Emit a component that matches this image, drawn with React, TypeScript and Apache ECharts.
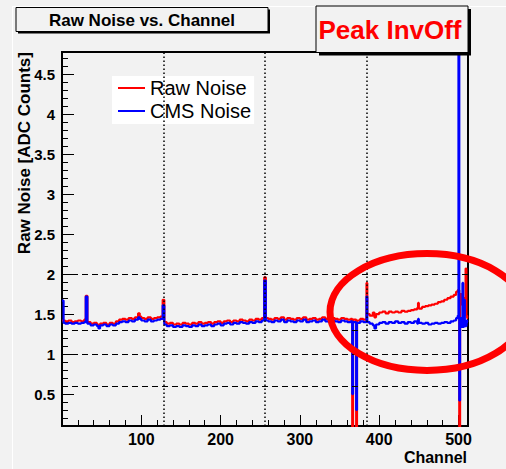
import React, { useEffect, useRef } from "react";
import * as echarts from "echarts";

// Histogram bins: [channel (left bin edge), value]
const rawNoise: [number, number][] = [
  [0, 1.42], [4, 1.41], [8, 1.42], [12, 1.4], [16, 1.41], [20, 1.42], [24, 1.41], [28, 1.43],
  [30, 1.73], [32, 1.4], [36, 1.38], [40, 1.39], [44, 1.37], [46, 1.35], [48, 1.38], [52, 1.39],
  [56, 1.37], [60, 1.39], [64, 1.38], [68, 1.41], [72, 1.43], [76, 1.44], [80, 1.43], [84, 1.45],
  [88, 1.44], [92, 1.46], [96, 1.51], [98, 1.47], [100, 1.45], [104, 1.44], [108, 1.46], [112, 1.44],
  [116, 1.45], [120, 1.46], [124, 1.47], [127, 1.68], [129, 1.4], [132, 1.38], [136, 1.39], [140, 1.37],
  [144, 1.38], [148, 1.37], [152, 1.39], [156, 1.38], [160, 1.37], [164, 1.39], [168, 1.38], [172, 1.4],
  [176, 1.38], [180, 1.39], [184, 1.4], [188, 1.38], [192, 1.4], [196, 1.41], [200, 1.39], [204, 1.41],
  [208, 1.42], [212, 1.4], [216, 1.42], [220, 1.41], [224, 1.43], [228, 1.42], [232, 1.41], [236, 1.43],
  [240, 1.42], [244, 1.44], [248, 1.43], [252, 1.45], [255, 1.96], [257, 1.45], [260, 1.44], [264, 1.43],
  [268, 1.45], [272, 1.44], [276, 1.46], [280, 1.43], [284, 1.45], [288, 1.44], [292, 1.43], [296, 1.45],
  [300, 1.44], [304, 1.46], [308, 1.43], [312, 1.44], [316, 1.45], [320, 1.43], [324, 1.44], [328, 1.46],
  [332, 1.44], [336, 1.43], [340, 1.45], [344, 1.44], [348, 1.43], [352, 1.45], [356, 1.44], [360, 1.43],
  [364, 1.44], [366, 0], [367, 1.43], [371, 0], [372, 1.42], [376, 1.44], [380, 1.43], [384, 1.89],
  [385, 1.5], [388, 1.48], [392, 1.52], [394, 1.46], [396, 1.5], [400, 1.52], [404, 1.53], [408, 1.51],
  [412, 1.53], [416, 1.52], [420, 1.53], [424, 1.52], [428, 1.54], [432, 1.53], [436, 1.54], [440, 1.55],
  [444, 1.56], [448, 1.58], [449, 1.64], [450, 1.57], [454, 1.59], [458, 1.6], [462, 1.61], [466, 1.62],
  [470, 1.63], [474, 1.65], [478, 1.66], [482, 1.68], [486, 1.7], [490, 1.72], [494, 1.74], [497, 1.78],
  [499, 1.8], [501, 0], [502, 1.75], [504, 1.62], [506, 1.7], [508, 1.52], [509, 2.07], [510, 1.48],
  [511, 1.45], [512, 1.45],
];

const cmsNoise: [number, number][] = [
  [0, 1.67], [2, 1.39], [4, 1.38], [8, 1.39], [12, 1.38], [16, 1.39], [20, 1.38], [24, 1.39],
  [28, 1.4], [30, 1.72], [32, 1.38], [36, 1.36], [40, 1.37], [44, 1.35], [46, 1.32], [48, 1.36],
  [52, 1.37], [56, 1.35], [60, 1.37], [64, 1.36], [68, 1.38], [72, 1.4], [76, 1.41], [80, 1.4],
  [84, 1.42], [88, 1.41], [92, 1.43], [96, 1.46], [98, 1.44], [100, 1.42], [104, 1.41], [108, 1.43],
  [112, 1.41], [116, 1.42], [120, 1.43], [124, 1.44], [127, 1.61], [129, 1.37], [132, 1.35], [136, 1.36],
  [140, 1.34], [144, 1.35], [148, 1.34], [152, 1.36], [156, 1.35], [160, 1.34], [164, 1.36], [168, 1.35],
  [172, 1.37], [176, 1.35], [180, 1.36], [184, 1.37], [188, 1.35], [192, 1.37], [196, 1.38], [200, 1.36],
  [204, 1.38], [208, 1.39], [212, 1.37], [216, 1.39], [220, 1.38], [224, 1.4], [228, 1.39], [232, 1.38],
  [236, 1.4], [240, 1.39], [244, 1.41], [248, 1.4], [252, 1.42], [255, 1.92], [257, 1.42], [260, 1.41],
  [264, 1.4], [268, 1.42], [272, 1.41], [276, 1.43], [280, 1.4], [284, 1.42], [288, 1.41], [292, 1.4],
  [296, 1.42], [300, 1.41], [304, 1.43], [308, 1.4], [312, 1.41], [316, 1.42], [320, 1.4], [324, 1.41],
  [328, 1.43], [332, 1.41], [336, 1.4], [340, 1.42], [344, 1.41], [348, 1.4], [352, 1.42], [356, 1.41],
  [360, 1.4], [364, 1.41], [366, 0.5], [367, 1.4], [371, 0.3], [372, 1.39], [376, 1.41], [380, 1.4],
  [384, 1.72], [385, 1.4], [388, 1.38], [392, 1.36], [394, 1.32], [396, 1.37], [400, 1.39], [404, 1.4],
  [408, 1.38], [412, 1.4], [416, 1.39], [420, 1.41], [424, 1.39], [428, 1.4], [432, 1.38], [436, 1.4],
  [440, 1.39], [444, 1.41], [448, 1.38], [449, 1.44], [450, 1.39], [454, 1.38], [458, 1.39], [462, 1.37],
  [466, 1.38], [470, 1.39], [474, 1.38], [478, 1.39], [482, 1.4], [486, 1.39], [490, 1.41], [494, 1.42],
  [497, 1.45], [499, 1.48], [500, 5.5], [501, 0.42], [502, 1.45], [504, 1.34], [505, 1.89], [506, 1.34],
  [507, 1.68], [508, 1.35], [510, 1.42], [511, 1.4], [512, 1.4],
];

const yTickLabels = [0.5, 1, 1.5, 2, 2.5, 3, 3.5, 4, 4.5];
const xTickLabels = [100, 200, 300, 400, 500];
const dashedLevels = [2, 1.3, 1, 0.6];
const dottedChannels = [128, 256, 384];

const X_MIN = 0;
const X_MAX = 512;
const Y_MIN = 0.1;
const Y_MAX = 4.78;

const FONT = "'Liberation Sans', Arial, Helvetica, sans-serif";
const BG = "#f2f2f2";

export default function App() {
  const ref = useRef<HTMLDivElement>(null);

  useEffect(() => {
    if (!ref.current) return;
    const chart = echarts.init(ref.current, undefined, { renderer: "svg" });

    const option: any = {
      animation: false,
      backgroundColor: BG,
      grid: {
        left: 62,
        right: 38,
        top: 52,
        bottom: 43,
        show: true,
        borderColor: "#000",
        borderWidth: 2,
        backgroundColor: "transparent",
      },
      xAxis: [
        {
          type: "value",
          min: X_MIN,
          max: X_MAX,
          position: "bottom",
          axisLine: { show: false },
          splitLine: { show: false },
          axisTick: {
            show: true,
            inside: true,
            length: 11,
            customValues: xTickLabels,
            lineStyle: { color: "#000", width: 1 },
          },
          axisLabel: {
            customValues: xTickLabels,
            color: "#000",
            fontWeight: "bold",
            fontSize: 16,
            fontFamily: FONT,
            margin: 5,
          },
        },
        {
          type: "value",
          min: X_MIN,
          max: X_MAX,
          interval: 20,
          position: "bottom",
          axisLine: { show: false },
          splitLine: { show: false },
          axisLabel: { show: false },
          axisTick: {
            show: true,
            inside: true,
            length: 6,
            lineStyle: { color: "#000", width: 1 },
          },
        },
      ],
      yAxis: [
        {
          type: "value",
          min: Y_MIN,
          max: Y_MAX,
          position: "left",
          axisLine: { show: false },
          splitLine: { show: false },
          axisTick: {
            show: true,
            inside: true,
            length: 12,
            customValues: yTickLabels,
            lineStyle: { color: "#000", width: 1 },
          },
          axisLabel: {
            customValues: yTickLabels,
            color: "#000",
            fontWeight: "bold",
            fontSize: 15,
            fontFamily: FONT,
            margin: 7,
          },
        },
        {
          type: "value",
          min: Y_MIN,
          max: Y_MAX,
          interval: 0.1,
          position: "left",
          axisLine: { show: false },
          splitLine: { show: false },
          axisLabel: { show: false },
          axisTick: {
            show: true,
            inside: true,
            length: 6,
            lineStyle: { color: "#000", width: 1 },
          },
        },
      ],
      legend: {
        left: 112,
        top: 76,
        orient: "vertical",
        backgroundColor: "#ffffff",
        padding: [2, 3, 3, 6],
        itemWidth: 27,
        itemHeight: 2,
        itemGap: 3,
        icon: "rect",
        textStyle: { fontSize: 20, color: "#000", fontFamily: FONT },
        data: ["Raw Noise", "CMS Noise"],
      },
      series: [
        {
          name: "guides",
          type: "line",
          data: [],
          silent: true,
          z: 1,
          markLine: {
            silent: true,
            symbol: ["none", "none"],
            label: { show: false },
            animation: false,
            data: [
              ...dashedLevels.map((v) => ({
                yAxis: v,
                lineStyle: { color: "#000", width: 1.2, type: [6, 4] },
              })),
              ...dottedChannels.map((c) => ({
                xAxis: c,
                lineStyle: { color: "#000", width: 1.5, type: [1.5, 2.5] },
              })),
            ],
          },
        },
        {
          name: "Raw Noise",
          type: "line",
          step: "end",
          data: rawNoise,
          symbol: "none",
          showSymbol: false,
          clip: true,
          z: 3,
          color: "#ff0000",
          itemStyle: { color: "#ff0000" },
          lineStyle: { color: "#ff0000", width: 2.2 },
        },
        {
          name: "CMS Noise",
          type: "line",
          step: "end",
          data: cmsNoise,
          symbol: "none",
          showSymbol: false,
          clip: true,
          z: 4,
          color: "#0000ff",
          itemStyle: { color: "#0000ff" },
          lineStyle: { color: "#0000ff", width: 2.2 },
        },
      ],
      graphic: [
        // pad highlight lines
        { type: "line", shape: { x1: 12.5, y1: 6, x2: 12.5, y2: 469 }, style: { stroke: "#ffffff", lineWidth: 1 }, z: 0 },
        { type: "line", shape: { x1: 12, y1: 6.5, x2: 506, y2: 6.5 }, style: { stroke: "#ffffff", lineWidth: 1 }, z: 0 },
        // title box
        { type: "rect", shape: { x: 18, y: 9.5, width: 252, height: 24 }, style: { fill: "#000" }, z: 10 },
        { type: "rect", shape: { x: 16, y: 7.5, width: 252, height: 24 }, style: { fill: BG, stroke: "#000", lineWidth: 1 }, z: 11 },
        {
          type: "text",
          x: 142,
          y: 20,
          z: 12,
          style: {
            text: "Raw Noise vs. Channel",
            fontSize: 17,
            fontWeight: "bold",
            fontFamily: FONT,
            fill: "#000",
            textAlign: "center",
            textVerticalAlign: "middle",
          },
        },
        // peak box
        { type: "rect", shape: { x: 319, y: 9, width: 152, height: 46.5 }, style: { fill: "#000" }, z: 10 },
        { type: "rect", shape: { x: 316, y: 6, width: 152, height: 46.5 }, style: { fill: BG, stroke: "#000", lineWidth: 1 }, z: 11 },
        {
          type: "text",
          x: 390,
          y: 30,
          z: 12,
          style: {
            text: "Peak InvOff",
            fontSize: 26,
            fontWeight: "bold",
            fontFamily: FONT,
            fill: "#ff0000",
            textAlign: "center",
            textVerticalAlign: "middle",
          },
        },
        // axis titles
        {
          type: "text",
          x: 24,
          y: 52,
          rotation: Math.PI / 2,
          z: 12,
          style: {
            text: "Raw Noise [ADC Counts]",
            fontSize: 17,
            fontWeight: "bold",
            fontFamily: FONT,
            fill: "#000",
            textAlign: "right",
            textVerticalAlign: "middle",
          },
        },
        {
          type: "text",
          x: 467,
          y: 457,
          z: 12,
          style: {
            text: "Channel",
            fontSize: 16,
            fontWeight: "bold",
            fontFamily: FONT,
            fill: "#000",
            textAlign: "right",
            textVerticalAlign: "middle",
          },
        },
        // red highlight ellipse
        {
          type: "ellipse",
          shape: { cx: 427, cy: 312, rx: 97, ry: 58.5 },
          z: 20,
          style: { fill: "none", stroke: "#ff0000", lineWidth: 7 },
        },
      ],
    };

    chart.setOption(option);
    return () => chart.dispose();
  }, []);

  return (
    <div
      ref={ref}
      style={{ position: "fixed", left: 0, top: 0, width: 506, height: 469 }}
    />
  );
}
